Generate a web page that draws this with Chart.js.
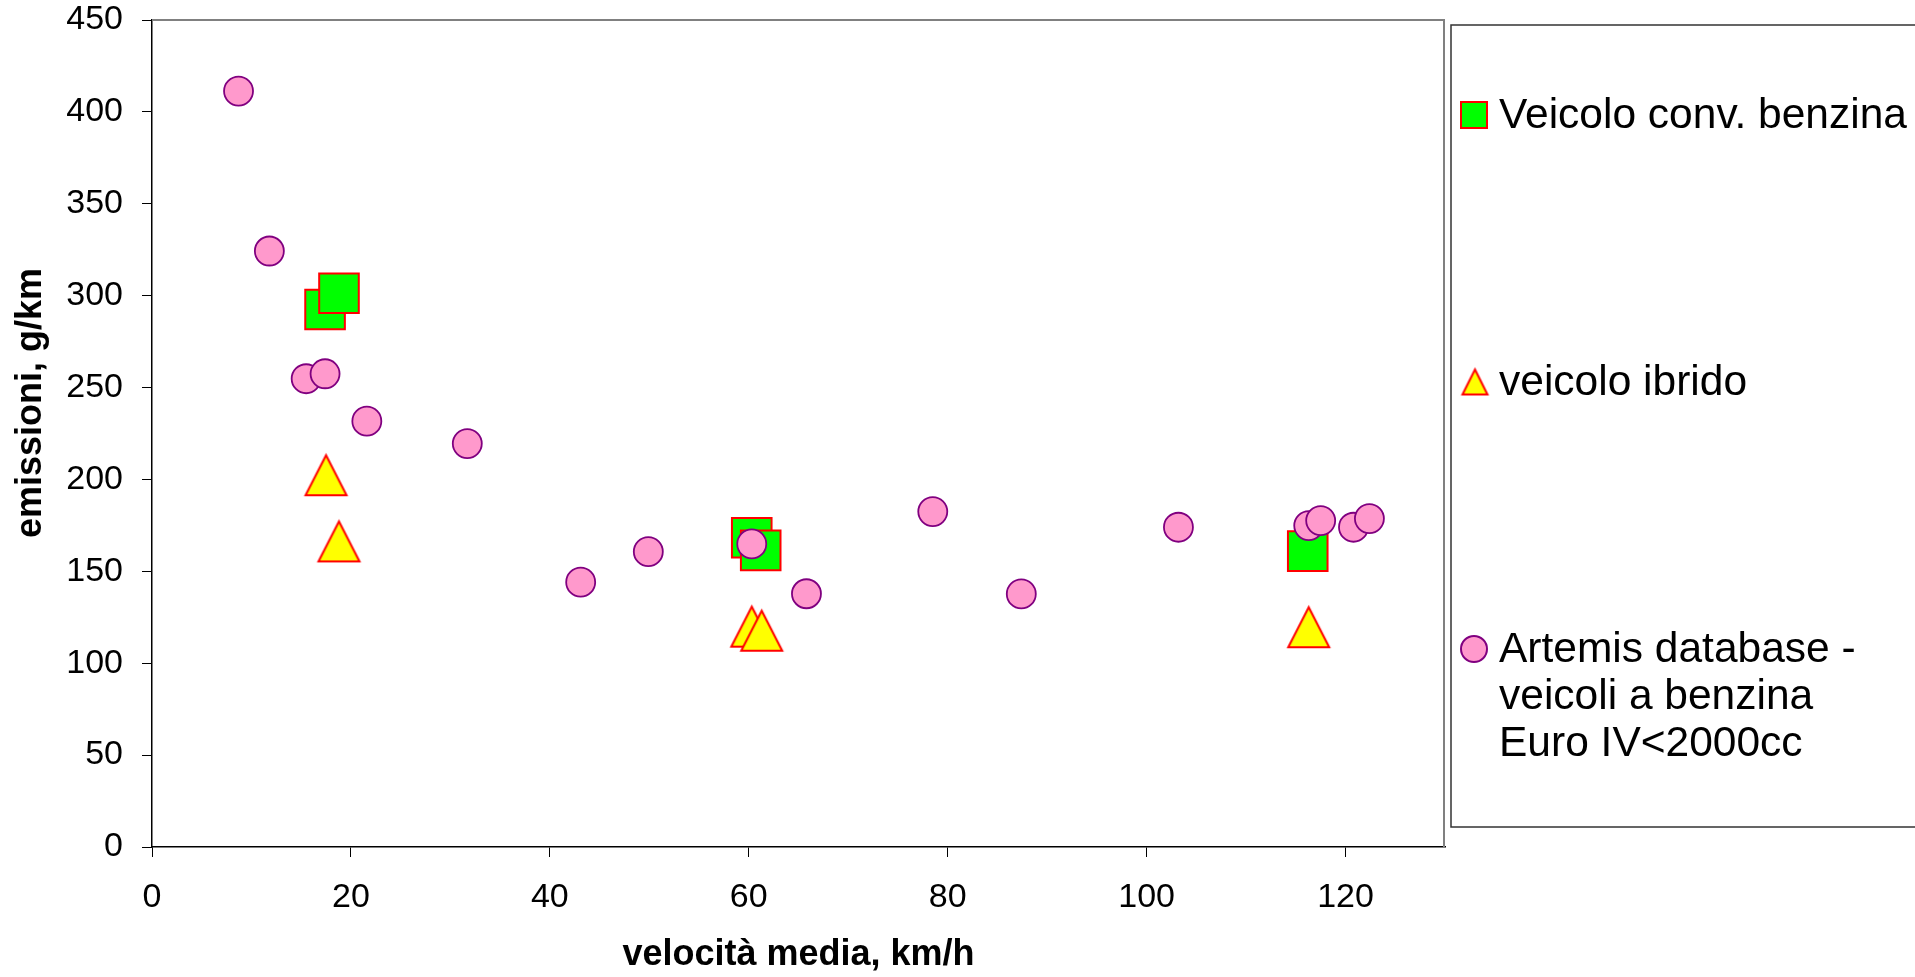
<!DOCTYPE html>
<html lang="it">
<head>
<meta charset="utf-8">
<title>Emissioni vs velocità media</title>
<script src="https://cdn.jsdelivr.net/npm/chart.js@4.4.1/dist/chart.umd.min.js"></script>
<style>
  html, body { margin: 0; padding: 0; background: #ffffff; }
  #wrap { position: relative; width: 1915px; height: 977px; }
  canvas { display: block; }
</style>
</head>
<body>
<div id="wrap"><canvas id="chart" width="1915" height="977"></canvas></div>
<script>
// Veicolo convenzionale a benzina: velocità media (km/h) ed emissioni (g/km)
const convSpeed = [17.4, 18.8, 60.3, 61.2, 116.2];
const convEmis  = [292.5, 301.3, 168.3, 161.4, 161.0];

// Veicolo ibrido
const hybSpeed = [17.5, 18.8, 60.3, 61.3, 116.3];
const hybEmis  = [202.3, 166.3, 119.9, 117.7, 119.6];

// Artemis database - veicoli a benzina Euro IV < 2000cc
const artSpeed = [8.7, 11.8, 15.5, 17.4, 21.6, 31.7, 43.1, 49.9, 60.3, 65.8, 78.5, 87.4, 103.2, 116.3, 117.5, 120.8, 122.4];
const artEmis  = [411.3, 324.3, 254.8, 257.5, 231.7, 219.5, 144.1, 160.7, 164.9, 137.8, 182.5, 137.7, 174.0, 174.9, 177.6, 174.0, 178.7];

// Series names
const seriesLabels = [
  ['Veicolo conv. benzina'],
  ['veicolo ibrido'],
  ['Artemis database -', 'veicoli a benzina', 'Euro IV<2000cc']
];

// Axis ranges, tick values and titles
const xRange = [0, 130];
const xTicks = [0, 20, 40, 60, 80, 100, 120];
const yRange = [0, 450];
const yTicks = [0, 50, 100, 150, 200, 250, 300, 350, 400, 450];
const xTitle = 'velocità media, km/h';
const yTitle = 'emissioni, g/km';

const FONT = '"Liberation Sans", Arial, Helvetica, sans-serif';

function toPoints(xs, ys) {
  return xs.map((x, i) => ({ x: x, y: ys[i] }));
}

// Excel-style triangle marker (as wide as it is tall)
function triangleMarker(w, h, fill, stroke, lw) {
  const c = document.createElement('canvas');
  const pad = lw + 1;
  c.width = Math.round(w + 2 * pad);
  c.height = Math.round(h + 2 * pad);
  const g = c.getContext('2d');
  g.beginPath();
  g.moveTo(c.width / 2, pad);
  g.lineTo(c.width - pad, c.height - pad);
  g.lineTo(pad, c.height - pad);
  g.closePath();
  g.fillStyle = fill;
  g.fill();
  g.lineWidth = lw;
  g.lineJoin = 'miter';
  g.strokeStyle = stroke;
  g.stroke();
  return c;
}

const triBig = triangleMarker(41, 40, '#FFFF00', '#FF0000', 2);
const triSmall = triangleMarker(25, 25, '#FFFF00', '#FF0000', 2);

// Plot frame (grey top and right edges) and the vertical axis title
const frame = {
  id: 'frame',
  beforeDatasetsDraw(chart) {
    const { ctx, chartArea: a } = chart;
    ctx.save();
    ctx.strokeStyle = '#808080';
    ctx.lineWidth = 2;
    ctx.beginPath();
    ctx.moveTo(a.left, a.top);
    ctx.lineTo(a.right - 1, a.top);
    ctx.lineTo(a.right - 1, a.bottom);
    ctx.stroke();

    ctx.translate(31, 403);
    ctx.rotate(-Math.PI / 2);
    ctx.font = 'bold 36px ' + FONT;
    ctx.fillStyle = '#000000';
    ctx.textAlign = 'center';
    ctx.textBaseline = 'middle';
    ctx.fillText(yTitle, 0, 0);
    ctx.restore();
  }
};

// Boxed legend on the right with multi-line entries
const sideLegend = {
  id: 'sideLegend',
  afterDraw(chart) {
    const { ctx } = chart;
    ctx.save();
    ctx.strokeStyle = '#333333';
    ctx.lineWidth = 1.5;
    ctx.strokeRect(1451, 25, 500, 802);

    const rows = [115, 382, 649];
    const markX = 1474;
    const textX = 1499;
    ctx.font = '42.5px ' + FONT;
    ctx.textAlign = 'left';
    ctx.textBaseline = 'alphabetic';

    chart.data.datasets.forEach((ds, i) => {
      const cy = rows[i];
      const kind = ds.legendMarker;
      ctx.lineWidth = 2;
      if (kind === 'rect') {
        ctx.fillStyle = ds.backgroundColor;
        ctx.strokeStyle = ds.borderColor;
        ctx.fillRect(markX - 13, cy - 13, 26, 26);
        ctx.strokeRect(markX - 13, cy - 13, 26, 26);
      } else if (kind === 'triangle') {
        ctx.drawImage(triSmall, markX + 1 - triSmall.width / 2, cy - triSmall.height / 2);
      } else {
        ctx.beginPath();
        ctx.arc(markX, cy, 13, 0, Math.PI * 2);
        ctx.fillStyle = ds.backgroundColor;
        ctx.fill();
        ctx.strokeStyle = ds.borderColor;
        ctx.stroke();
      }
      ctx.fillStyle = '#000000';
      seriesLabels[i].forEach((line, k) => {
        ctx.fillText(line, textX, cy + 13 + k * 47);
      });
    });
    ctx.restore();
  }
};

new Chart(document.getElementById('chart'), {
  type: 'scatter',
  data: {
    datasets: [
      {
        label: seriesLabels[0].join(' '),
        data: toPoints(convSpeed, convEmis),
        pointStyle: 'rect',
        pointRadius: 28,
        backgroundColor: '#00FF00',
        borderColor: '#FF0000',
        borderWidth: 2,
        legendMarker: 'rect',
        order: 2
      },
      {
        label: seriesLabels[1].join(' '),
        data: toPoints(hybSpeed, hybEmis),
        pointStyle: triBig,
        pointRadius: 22,
        backgroundColor: '#FFFF00',
        borderColor: '#FF0000',
        borderWidth: 2,
        legendMarker: 'triangle',
        order: 2
      },
      {
        label: seriesLabels[2].join(' '),
        data: toPoints(artSpeed, artEmis),
        pointStyle: 'circle',
        pointRadius: 14.5,
        backgroundColor: '#FF99CC',
        borderColor: '#800080',
        borderWidth: 1.8,
        legendMarker: 'circle',
        order: 1
      }
    ]
  },
  options: {
    responsive: false,
    animation: false,
    events: [],
    layout: { autoPadding: false, padding: { top: 20, right: 470, left: 0, bottom: 0 } },
    plugins: {
      legend: { display: false },
      tooltip: { enabled: false }
    },
    scales: {
      x: {
        type: 'linear',
        position: 'bottom',
        min: xRange[0],
        max: xRange[1],
        afterFit(s) { s.height = 130; s.paddingLeft = 0; s.paddingRight = 0; },
        afterBuildTicks(s) { s.ticks = xTicks.map(v => ({ value: v })); },
        ticks: {
          color: '#000000',
          padding: 20,
          maxRotation: 0,
          font: { family: FONT, size: 34 }
        },
        grid: {
          drawOnChartArea: false,
          drawTicks: true,
          tickLength: 10,
          color: '#000000',
          lineWidth: 1
        },
        border: { display: true, color: '#000000', width: 1.5 },
        title: {
          display: true,
          text: xTitle,
          color: '#000000',
          padding: { top: 0, bottom: 0 },
          font: { family: FONT, size: 36, weight: 'bold' }
        }
      },
      y: {
        type: 'linear',
        position: 'left',
        min: yRange[0],
        max: yRange[1],
        afterFit(s) { s.width = 152; s.paddingTop = 0; s.paddingBottom = 0; },
        afterBuildTicks(s) { s.ticks = yTicks.map(v => ({ value: v })); },
        ticks: {
          color: '#000000',
          padding: 19,
          font: { family: FONT, size: 34 }
        },
        grid: {
          drawOnChartArea: false,
          drawTicks: true,
          tickLength: 10,
          color: '#000000',
          lineWidth: 1
        },
        border: { display: true, color: '#000000', width: 1.5 },
        title: { display: false }
      }
    }
  },
  plugins: [frame, sideLegend]
});
</script>
</body>
</html>
